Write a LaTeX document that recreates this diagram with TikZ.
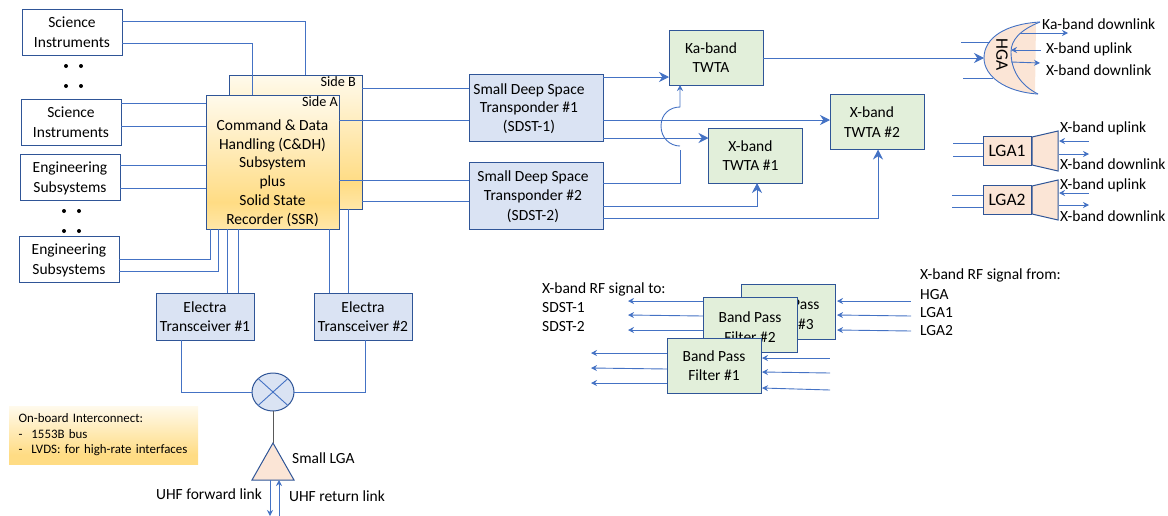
\documentclass[tikz,border=0pt]{standalone}
\usepackage{fontspec}
\setmainfont{Carlito}
\usepackage{tikz}
\usetikzlibrary{positioning,arrows.meta,shapes.geometric}
\usepackage{xcolor}

\definecolor{edgeblue}{HTML}{2F5597}
\definecolor{linkblue}{HTML}{4472C4}
\definecolor{boxblue}{HTML}{DAE3F3}
\definecolor{boxgreen}{HTML}{E2EFDA}
\definecolor{boxpeach}{HTML}{FBE5D6}
\definecolor{goldtop}{HTML}{FFFAEC}
\definecolor{goldmid}{HTML}{FFDC84}
\definecolor{goldend}{HTML}{FFE7A8}
\pgfdeclareverticalshading{goldfade}{100bp}{color(0bp)=(goldend); color(25bp)=(goldend);
    color(35bp)=(goldmid); color(75bp)=(goldtop); color(100bp)=(goldtop)}
\pgfdeclareverticalshading{notefade}{100bp}{color(0bp)=(goldmid); color(25bp)=(goldmid);
    color(33bp)=(goldmid); color(75bp)=(goldtop); color(100bp)=(goldtop)}

% text shifted to the left and down inside its box
\newcommand{\lefttext}[2]{\hspace*{-#1}\raisebox{-1.5pt}[\height][\depth]{\begin{tabular}{@{}c@{}}#2\end{tabular}}}

\begin{document}
\begin{tikzpicture}[
    x=1pt, y=-1pt,
    txt/.style={inner sep=0pt, font=\fontsize{15.5}{19.6}\selectfont},
    box/.style={rectangle, draw=edgeblue, line width=1pt, inner sep=0pt, outer sep=0pt,
                align=center, font=\fontsize{15.5}{19.6}\selectfont},
    unit/.style={box, minimum width=100pt, minimum height=46pt},
    electra/.style={box, fill=boxblue, minimum width=98pt, minimum height=47pt},
    sdst/.style={box, fill=boxblue, minimum width=134pt, minimum height=67pt},
    twta/.style={box, fill=boxgreen, minimum width=94pt, minimum height=55pt},
    side/.style={box, shading=goldfade, minimum width=133pt, minimum height=134pt},
    lga/.style={box, fill=boxpeach, minimum width=48pt, minimum height=29pt,
                font=\fontsize{17.5}{20}\selectfont},
    link/.style={draw=linkblue, line width=0.9pt},
    arrow/.style={link, -{Stealth[length=10pt, width=10pt]}},
    small/.style={link, -{Stealth[length=6pt, width=6pt]}},
    smallback/.style={link, {Stealth[length=6pt, width=6pt]}-}
]
    \useasboundingbox (0,0) rectangle (1168,515);

    % data handling sides
    \node[side] (sideB) at (295.5,142) {};
    \node[side] (sideA) at (272.5,162) {};
    \node[txt, anchor=north east, font=\fontsize{14.2}{18}\selectfont] (sideBname) at (356,76) {Side B};
    \node[txt, anchor=north east, font=\fontsize{14.2}{18}\selectfont] (sideAname) at (338,96) {Side A};
    \node[txt, align=center, font=\fontsize{15.5}{18.8}\selectfont] (cdh) at (272.5,173) {Command \& Data\\Handling (C\&DH)\\Subsystem\\plus\\Solid State\\Recorder (SSR)};

    \node[unit] (sciA) at (72,32) {\lefttext{0pt}{Science\\Instruments}};
    \node[unit] (sciB) at (71,122) {\lefttext{0pt}{Science\\Instruments}};
    \node[unit] (engA) at (70,177) {\lefttext{0pt}{Engineering\\Subsystems}};
    \node[unit] (engB) at (69,259) {\lefttext{0pt}{Engineering\\Subsystems}};
    \fill (66,66) circle (2) (81,66) circle (2) (66,86) circle (2) (81,86) circle (2);
    \fill (64,211) circle (2) (79,211) circle (2) (64,231) circle (2) (79,231) circle (2);

    \draw[link] (sciA.east |- 0,21) -| (sideB.north -| 305,0);
    \draw[link] (sciA.east |- 0,43) -| (sideA.north -| 252,0);
    \draw[link] (sciB.east |- 0,103) -- (sideA.west |- 0,103);
    \draw[link] (sciB.east |- 0,126) -- (sideA.west |- 0,126);
    \draw[link] (engA.east |- 0,165) -- (sideA.west |- 0,165);
    \draw[link] (engA.east |- 0,188) -- (sideA.west |- 0,188);
    \draw[link] (engB.east |- 0,259) -| (sideA.south -| 210,0);
    \draw[link] (engB.east |- 0,271) -| (sideA.south -| 218,0);

    % UHF part
    \node[electra] (elecA) at (205,316.5) {\lefttext{0pt}{Electra\\Transceiver \#1}};
    \node[electra, right=60pt of elecA] (elecB) {\lefttext{0pt}{Electra\\Transceiver \#2}};
    \node[ellipse, draw=edgeblue, line width=1pt, fill=boxblue, minimum width=42pt,
          minimum height=38pt, inner sep=0pt, outer sep=0pt] (mix) at (273,392) {};
    \draw[link] (mix.north west) -- (mix.south east);
    \draw[link] (mix.north east) -- (mix.south west);
    \coordinate (smalltop) at (273,443);
    \coordinate (smallbase) at (273,480);
    \draw[draw=edgeblue, line width=1pt, fill=boxpeach] (smalltop) -- (252,480) -- (294,480) -- cycle;
    \node[txt, anchor=west] (smallname) at (292,458) {Small LGA};
    \node[txt] (uhfout) at (209,494) {UHF forward link};
    \node[txt] (uhfin) at (337,496) {UHF return link};

    \draw[link] (sideA.south -| 227,0) -- (elecA.north -| 227,0);
    \draw[link] (sideA.south -| 238,0) -- (elecA.north -| 238,0);
    \draw[link] (sideA.south -| 329,0) -- (elecB.north -| 329,0);
    \draw[link] (sideB.south -| 348,0) -- (elecB.north -| 348,0);
    \draw[link] (elecA.south -| 181,0) |- (mix.west);
    \draw[link] (elecB.south -| 365,0) |- (mix.east);
    \draw[draw=black!65, line width=1pt] (mix.south) -- (smalltop);
    \draw[small] ([xshift=-3pt]smallbase) -- ++(0,36);
    \draw[smallback] ([xshift=6pt]smallbase) -- ++(0,36);

    % note
    \node[rectangle, shading=notefade, minimum width=189pt, minimum height=58pt, inner sep=0pt,
          text width=170pt, align=left, font=\fontsize{12.9}{15.4}\selectfont] (note) at (103.5,435)
          {On-board Interconnect:\\-\hspace{9pt}1553B bus\\-\hspace{9pt}LVDS: for high-rate interfaces};

    % transponders and amplifiers
    \node[sdst] (sdstA) at (536,107.5) {\lefttext{14pt}{Small Deep Space\\[-1.5pt]Transponder \#1\\[-1.5pt](SDST-1)}};
    \node[sdst, below=21pt of sdstA] (sdstB) {\lefttext{6pt}{Small Deep Space\\Transponder \#2\\(SDST-2)}};
    \node[twta] (kaamp) at (716,57.5) {\lefttext{10pt}{Ka-band\\TWTA}};
    \node[twta] (xampA) at (755.5,155.5) {\lefttext{10pt}{X-band\\TWTA \#1}};
    \node[twta] (xampB) at (877,122) {\lefttext{10pt}{X-band\\TWTA \#2}};

    \draw[link] (sideB.east |- 0,88) -- (sdstA.west |- 0,88);
    \draw[link] (sideA.east |- 0,120) -- (sdstA.west |- 0,120);
    \draw[link] (sideA.east |- 0,180) -- (sdstB.west |- 0,180);
    \draw[link] (sideB.east |- 0,201) -- (sdstB.west |- 0,201);

    \draw[arrow] (sdstA.east |- 0,77) -- (kaamp.west |- 0,77);
    \draw[arrow] (sdstA.east |- 0,120) -- (xampB.west |- 0,120);
    \draw[arrow] (sdstA.east |- 0,138) -- (xampA.west |- 0,138);
    \draw[link] (sdstB.east |- 0,183) -| (680,150);
    \draw[small] (680,146) .. controls (670,146) and (661,138) .. (661,126)
        .. controls (661,114) and (670,107) .. (680,107) -- (kaamp.south -| 680,0);
    \draw[arrow] (sdstB.east |- 0,206) -| (xampA.south -| 757,0);
    \draw[arrow] (sdstB.east |- 0,218) -| (xampB.south -| 878,0);

    % antennas
    \coordinate (hgatop) at (1040,22);
    \coordinate (hgalow) at (1038,94);
    \fill[boxpeach] (hgatop) .. controls (1005,24) and (984,38) .. (984,58)
        .. controls (984,76) and (1005,92) .. (hgalow) -- (1035,94) -- (1036,22) -- cycle;
    \draw[link] (hgatop) .. controls (1005,24) and (984,38) .. (984,58)
        .. controls (984,76) and (1005,92) .. (hgalow);
    \draw[link] (hgatop) .. controls (1020,30) and (1011,40) .. (1011,52)
        .. controls (1011,70) and (1020,85) .. (hgalow);
    \coordinate (hgaface) at (984,58);
    \coordinate (hgadish) at (1011,50);
    \node[txt, rotate=-90, font=\fontsize{17.5}{20}\selectfont] (hganame) at (1002,55) {HGA};
    \draw[arrow] (kaamp.east |- 0,58) -- (hgaface);
    \draw[link] (hgaface) ++(6,-16) -- ++(-29,0);
    \draw[link] (hgaface) ++(9,20) -- ++(-30,0);
    \draw[small] (hgadish) ++(9,-17) -- ++(48,0);
    \draw[smallback] (hgadish) -- ++(30,0);
    \draw[small] (hgadish) ++(0,12) -- ++(29,1);
    \node[txt, anchor=west] (hgaka) at (1042,24) {Ka-band downlink};
    \node[txt, anchor=west] (hgaup) at (1046,49) {X-band uplink};
    \node[txt, anchor=west] (hgadown) at (1046,70) {X-band downlink};

    \fill[boxpeach, draw=edgeblue, line width=1pt] (1032,137) -- (1058,131) -- (1058,171) -- (1032,165) -- cycle;
    \fill[boxpeach, draw=edgeblue, line width=1pt] (1032,186) -- (1058,180) -- (1058,220) -- (1032,214) -- cycle;
    \node[lga] (lgaA) at (1007,150.5) {LGA1};
    \node[lga, below=20pt of lgaA] (lgaB) {LGA2};
    \draw[link] (lgaA.west |- 0,143) -- ++(-30,0);
    \draw[link] (lgaA.west |- 0,156) -- ++(-30,0);
    \draw[link] (lgaB.west |- 0,195) -- ++(-31,0);
    \draw[link] (lgaB.west |- 0,207) -- ++(-31,0);
    \draw[smallback] (lgaA.east |- 0,141) ++(28,0) -- ++(30,0);
    \draw[small] (lgaA.east |- 0,154) ++(28,0) -- ++(30,0);
    \draw[smallback] (lgaB.east |- 0,193) ++(28,0) -- ++(30,0);
    \draw[small] (lgaB.east |- 0,205) ++(28,0) -- ++(30,0);
    \node[txt, anchor=west] (lgaAup) at (1060,128) {X-band uplink};
    \node[txt, anchor=west] (lgaAdown) at (1060,164) {X-band downlink};
    \node[txt, anchor=west] (lgaBup) at (1060,185) {X-band uplink};
    \node[txt, anchor=west] (lgaBdown) at (1060,216) {X-band downlink};

    % band pass filters
    \node[twta] (bpfC) at (788,312) {\raisebox{-2pt}[\height][\depth]{\lefttext{0pt}{Band Pass\\Filter \#3}}};
    \node[twta] (bpfB) at (750,324.5) {\raisebox{-2.5pt}[\height][\depth]{\lefttext{0pt}{Band Pass\\Filter \#2}}};
    \node[twta] (bpfA) at (714,365.5) {\lefttext{0pt}{Band Pass\\Filter \#1}};

    \node[txt, anchor=west] (toname) at (542,289) {X-band RF signal to:};
    \node[txt, anchor=west] (tosdstA) at (542,308) {SDST-1};
    \node[txt, anchor=west] (tosdstB) at (542,327) {SDST-2};
    \node[txt, anchor=west] (fromname) at (920,275) {X-band RF signal from:};
    \node[txt, anchor=west] (fromhga) at (920,295) {HGA};
    \node[txt, anchor=west] (fromlgaA) at (920,313) {LGA1};
    \node[txt, anchor=west] (fromlgaB) at (920,331) {LGA2};

    \draw[small] (bpfB.west |- 0,301) -- ++(-75,0);
    \draw[small] (bpfB.west |- 0,316) -- ++(-75,-1);
    \draw[small] (bpfB.west |- 0,330) -- ++(-75,0);
    \draw[smallback] ([xshift=2pt]bpfC.east |- 0,301) -- ++(74,0);
    \draw[smallback] ([xshift=2pt]bpfC.east |- 0,315) -- ++(74,1);
    \draw[smallback] ([xshift=2pt]bpfC.east |- 0,330) -- ++(74,1);
    \draw[small] (bpfA.west |- 0,353) -- ++(-76,0);
    \draw[small] (bpfA.west |- 0,369) -- ++(-76,-1);
    \draw[small] (bpfA.west |- 0,383) -- ++(-76,0);
    \draw[smallback] ([xshift=1pt]bpfA.east |- 0,358) -- ++(68,0);
    \draw[smallback] ([xshift=1pt]bpfA.east |- 0,372) -- ++(68,1);
    \draw[smallback] ([xshift=1pt]bpfA.east |- 0,388) -- ++(68,2);
\end{tikzpicture}
\end{document}
